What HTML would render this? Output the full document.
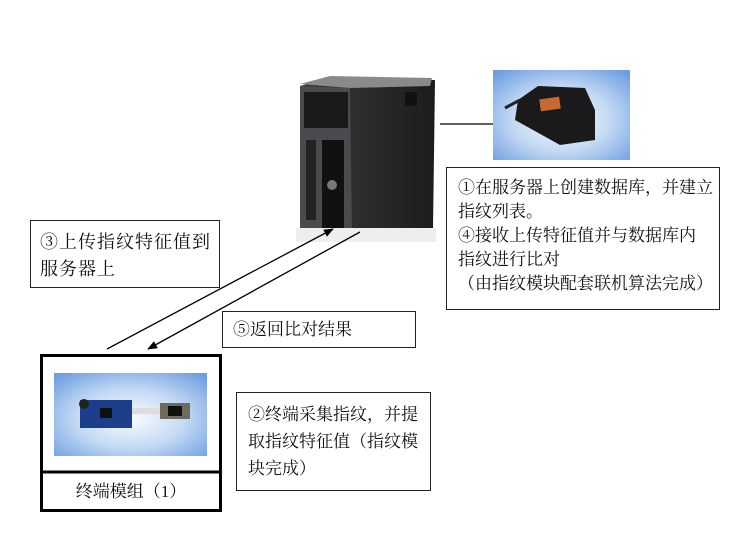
<!DOCTYPE html>
<html><head><meta charset="utf-8"><style>
body{margin:0;width:750px;height:547px;background:#fff;position:relative;overflow:hidden;font-family:"Liberation Serif","Noto Serif CJK SC",serif;color:#111}
.b{position:absolute;border:1px solid #222;background:#fff;font-size:17px;line-height:24px;box-sizing:border-box;white-space:nowrap}
</style></head><body>
<svg width="750" height="547" style="position:absolute;left:0;top:0">
<defs>
<radialGradient id="bg" cx="50%" cy="55%" r="70%"><stop offset="0" stop-color="#fafcff"/><stop offset="0.5" stop-color="#c4daf4"/><stop offset="1" stop-color="#6e9ee0"/></radialGradient>
<linearGradient id="sv" x1="0" x2="1"><stop offset="0" stop-color="#3a3a3c"/><stop offset="1" stop-color="#1c1c1e"/></linearGradient>
<marker id="ah" markerWidth="10" markerHeight="8" refX="9" refY="4" orient="auto" markerUnits="userSpaceOnUse"><path d="M0,0L10,4L0,8z" fill="#000"/></marker>
</defs>
<path d="M300,86L330,78L435,80L433,228L352,238L300,228Z" fill="url(#sv)"/>
<path d="M300,84L330,76L432,78L430,86L350,88Z" fill="#8a8a8c"/>
<path d="M300,86L350,88L352,238L300,228Z" fill="#4a4b4e"/>
<rect x="304" y="92" width="44" height="36" fill="#1a1a1a"/>
<rect x="322" y="140" width="22" height="95" fill="#111"/>
<rect x="306" y="140" width="10" height="80" fill="#222"/>
<circle cx="332" cy="185" r="5" fill="#777"/>
<rect x="405" y="92" width="12" height="14" fill="#111"/>
<rect x="296" y="228" width="140" height="14" fill="#eee"/>
<rect x="493" y="70" width="137" height="90" fill="url(#bg)"/>
<path d="M518,100L538,86L585,88L595,110L595,140L560,145L515,120Z" fill="#1a1a1a"/>
<path d="M505,108L520,100" stroke="#222" stroke-width="3"/>
<rect x="540" y="98" width="20" height="12" fill="#c86a30" transform="rotate(-8 550 104)"/>
<line x1="440" y1="124" x2="493" y2="124" stroke="#000" stroke-width="1.3"/>
<line x1="107" y1="349" x2="333" y2="229" stroke="#000" stroke-width="1.3" marker-end="url(#ah)"/>
<line x1="360" y1="232" x2="148" y2="349" stroke="#000" stroke-width="1.3" marker-end="url(#ah)"/>
<rect x="41.5" y="355.5" width="179" height="155" fill="#fff" stroke="#000" stroke-width="3"/>
<line x1="41" y1="472" x2="221" y2="472" stroke="#000" stroke-width="3"/>
<rect x="54" y="373" width="153" height="83" fill="url(#bg)"/>
<rect x="80" y="400" width="52" height="28" fill="#1b3f8a"/>
<circle cx="84" cy="404" r="5" fill="#222"/>
<rect x="100" y="408" width="12" height="10" fill="#111"/>
<rect x="132" y="408" width="30" height="6" fill="#ddd"/>
<rect x="160" y="403" width="30" height="16" fill="#6f6a5c"/>
<rect x="168" y="406" width="14" height="10" fill="#111"/>
</svg>
<div style="position:absolute;left:41px;top:474px;width:180px;height:36px;line-height:36px;text-align:center;font-size:17px">终端模组（1）</div>
<div class="b" style="left:446px;top:167px;width:274px;height:143px;padding:8px 0 0 11px">①在服务器上创建数据库，并建立<br>指纹列表。<br>④接收上传特征值并与数据库内<br>指纹进行比对<br>（由指纹模块配套联机算法完成）</div>
<div class="b" style="left:30px;top:220px;width:190px;height:68px;padding:8px 0 0 9px;font-size:18px;letter-spacing:1px;line-height:27px">③上传指纹特征值到<br>服务器上</div>
<div class="b" style="left:222px;top:311px;width:194px;height:37px;padding:6px 0 0 10px">⑤返回比对结果</div>
<div class="b" style="left:236px;top:392px;width:195px;height:99px;padding:8px 0 0 11px;line-height:27px">②终端采集指纹，并提<br>取指纹特征值（指纹模<br>块完成）</div>
</body></html>
